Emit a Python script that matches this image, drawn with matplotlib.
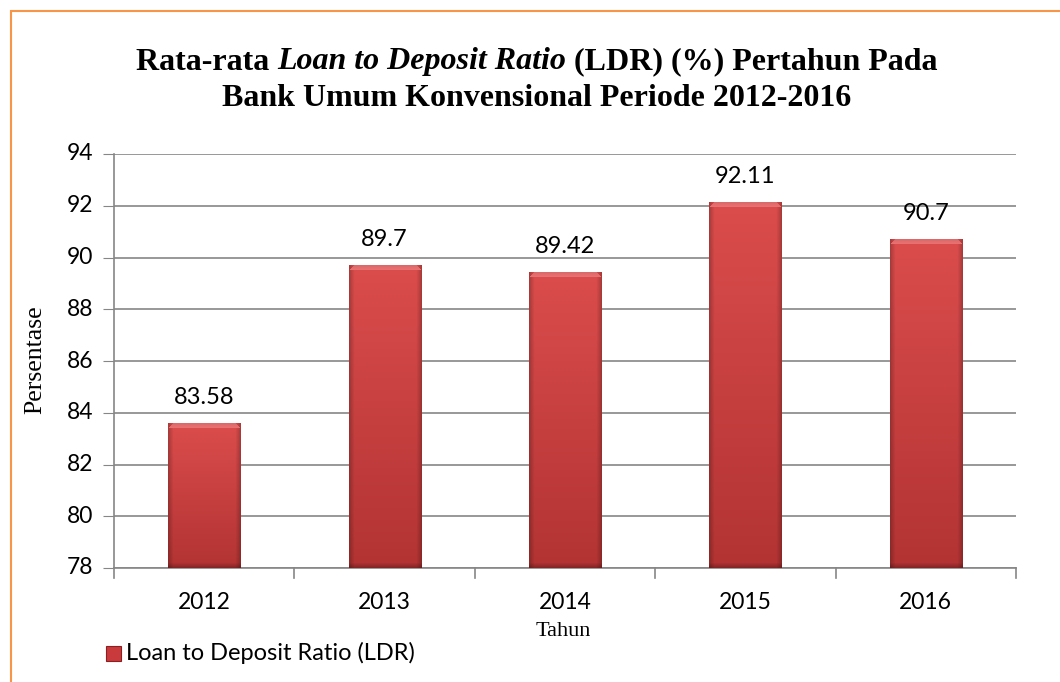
import matplotlib
matplotlib.use("Agg")
import matplotlib.pyplot as plt
from matplotlib.patches import Rectangle
import numpy as np

years = ["2012", "2013", "2014", "2015", "2016"]
ldr = [83.58, 89.7, 89.42, 92.11, 90.7]
labels = ["83.58", "89.7", "89.42", "92.11", "90.7"]
yticks = [78, 80, 82, 84, 86, 88, 90, 92, 94]

W, H = 1060, 682
fig = plt.figure(figsize=(W / 100, H / 100), dpi=100)
fig.patch.set_facecolor("white")

# orange chart border
fig.patches.append(Rectangle((11 / W, -0.05), 1.2, 1 - 11 / H + 0.05, transform=fig.transFigure,
                             fill=False, edgecolor="#F79646", linewidth=1.5))

ax = fig.add_axes([114 / W, 1 - 568 / H, (1016 - 114) / W, (568 - 154) / H])
x = np.arange(len(years))

bars = ax.bar(x, [v - 78 for v in ldr], bottom=78, width=0.4, color="#C93A3C",
              edgecolor="none", linewidth=0, zorder=3)


def bevel_image(nh, nw):
    top = np.array([0.86, 0.30, 0.30])
    bot = np.array([0.70, 0.20, 0.20])
    t = np.linspace(0, 1, nh)[:, None, None]
    img = top * (1 - t) + bot * t
    img = np.repeat(img, nw, axis=1)
    e = 5
    for i in range(e):
        f = 0.78 + 0.22 * i / e
        img[:, i] *= f
        img[:, nw - 1 - i] *= f
    for i in range(e):
        img[i, e - i:nw - e + i] = np.array([0.93, 0.45, 0.45]) * (0.92 + 0.08 * i / e)
    for i in range(e):
        img[nh - 1 - i] *= 0.75 + 0.25 * i / e
    return np.clip(img, 0, 1)


for b in bars:
    bx, bw = b.get_x(), b.get_width()
    y0, y1 = b.get_y(), b.get_y() + b.get_height()
    nh = max(int((y1 - y0) / 16 * 414), 10)
    ax.imshow(bevel_image(nh, 72), extent=(bx, bx + bw, y0, y1), aspect="auto",
              zorder=3.5, interpolation="bilinear", origin="upper")
    b.set_visible(False)
ax.set_xlim(-0.5, len(years) - 0.5)
ax.set_ylim(78, 94)

for xi, v, lab in zip(x, ldr, labels):
    ax.text(xi, v + 0.6, lab, ha="center", va="bottom", fontsize=17,
            family="Lato", color="black")

ax.set_yticks(yticks)
ax.set_yticklabels([str(t) for t in yticks], fontsize=16.5, family="Lato")
ax.set_xticks(x)
ax.set_xticklabels(years, fontsize=16.5, family="Lato")
ax.tick_params(axis="x", length=0, pad=17)
ax.tick_params(axis="y", length=8, color="#868686", pad=7)
for lbl in ax.get_yticklabels():
    lbl.set_verticalalignment("center")
for xb in np.arange(-0.5, len(years) + 0.5, 1):
    ax.plot([xb, xb], [78, 77.6], color="#868686", lw=1.2, clip_on=False, zorder=4)

ax.grid(axis="y", color="#868686", lw=1.2, zorder=0)
for s in ["top", "right"]:
    ax.spines[s].set_visible(False)
ax.spines["left"].set_color("#868686")
ax.spines["bottom"].set_color("#868686")
ax.spines["left"].set_linewidth(1.2)
ax.spines["bottom"].set_linewidth(1.2)

fig.text(563 / W, 1 - 632 / H, "Tahun", family="Liberation Serif", fontsize=16,
         ha="center", va="center")
fig.text(35 / W, 1 - 360 / H, "Persentase", family="Liberation Serif", fontsize=18.5,
         ha="center", va="center", rotation=90)

# title with mixed italic
fig.canvas.draw()
r = fig.canvas.get_renderer()
parts = [("Rata-rata ", "normal"), ("Loan to Deposit Ratio", "italic"),
         (" (LDR) (%) Pertahun Pada", "normal")]
fs = 23
widths = []
for t, st in parts:
    tt = fig.text(0, 0, t, fontsize=fs, family="Liberation Serif", weight="bold", style=st)
    widths.append(tt.get_window_extent(r).width)
    tt.remove()
total = sum(widths)
cx = 537
xs = cx - total / 2
for (t, st), w in zip(parts, widths):
    fig.text(xs / W, 1 - 62 / H, t, fontsize=fs, family="Liberation Serif", weight="bold",
             style=st, ha="left", va="center")
    xs += w
fig.text(cx / W, 1 - 98 / H, "Bank Umum Konvensional Periode 2012-2016", fontsize=fs,
         family="Liberation Serif", weight="bold", ha="center", va="center")

# legend
fig.patches.append(Rectangle((106 / W, 1 - 661 / H), 15 / W, 15 / H, transform=fig.transFigure,
                             facecolor="#C93A3C", edgecolor="#8E1F20", lw=0.8))
fig.text(126 / W, 1 - 653 / H, "Loan to Deposit Ratio (LDR)", fontsize=17, family="Lato",
         ha="left", va="center")

fig.savefig("out.png", dpi=100)
